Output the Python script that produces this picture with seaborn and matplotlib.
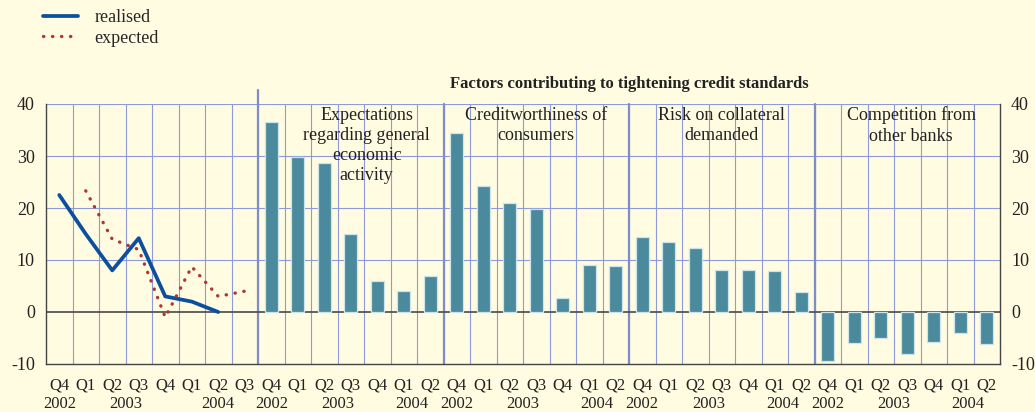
import matplotlib
matplotlib.use("Agg")
import matplotlib.pyplot as plt
import matplotlib.transforms as mtransforms
import numpy as np
import pandas as pd
import seaborn as sns

# left panel: bank lending survey, overall credit standards
left_quarters = ["Q4", "Q1", "Q2", "Q3", "Q4", "Q1", "Q2", "Q3"]
left_years = ["2002", "2003", "2004"]
realised = [22.5, 15.0, 8.0, 14.2, 3.0, 2.0, 0.0, np.nan]
expected = [np.nan, 23.3, 14.0, 12.0, -1.0, 8.7, 3.0, 4.0]

# right part: factors contributing to tightening
group_quarters = ["Q4", "Q1", "Q2", "Q3", "Q4", "Q1", "Q2"]
group_years = ["2002", "2003", "2004"]
factor_names = [
    "Expectations\nregarding general\neconomic\nactivity",
    "Creditworthiness of\nconsumers",
    "Risk on collateral\ndemanded",
    "Competition from\nother banks",
]
expectations_vals = [36.6, 29.8, 28.6, 15.0, 5.9, 4.0, 6.9]
creditworthiness_vals = [34.5, 24.3, 21.0, 19.9, 2.6, 9.1, 8.9]
collateral_vals = [14.5, 13.5, 12.3, 8.1, 8.1, 7.9, 3.9]
competition_vals = [-9.5, -5.9, -5.0, -8.1, -5.7, -4.1, -6.1]
factor_values = [expectations_vals, creditworthiness_vals, collateral_vals, competition_vals]

title = "Factors contributing to tightening credit standards"

BG = "#fffce1"
GRID = "#8f9bd8"
SEP = "#7f8cca"
BAR = "#4a8a9c"
BLUE = "#0b4f9e"
RED = "#b03535"
TXT = "#222222"

sns.set_style("white")
plt.rcParams["font.family"] = ["Liberation Serif", "DejaVu Serif"]
plt.rcParams["axes.unicode_minus"] = False

n_left = len(left_quarters)
n_grp = len(group_quarters)
group_starts = [n_left + k * n_grp for k in range(len(factor_names))]
n_total = n_left + n_grp * len(factor_names)

# tidy tables for seaborn
left_df = pd.DataFrame({
    "pos": np.arange(n_left) + 0.5,
    "realised": realised,
    "expected": expected,
})
bar_rows = []
for start, vals in zip(group_starts, factor_values):
    for i, v in enumerate(vals):
        bar_rows.append({"pos": start + i + 0.5, "value": v})
bar_df = pd.DataFrame(bar_rows)

fig = plt.figure(figsize=(10.35, 4.12), dpi=100, facecolor=BG)
ax = fig.add_axes([46 / 1035, 1 - 364 / 412, 954 / 1035, 260 / 412])
ax.set_facecolor(BG)

# grid
for x in range(1, n_total):
    ax.axvline(x, color=GRID, lw=0.8, zorder=0.5)
for y in [10, 20, 30, 40]:
    ax.axhline(y, color=GRID, lw=0.8, zorder=0.5)
for i, s in enumerate(group_starts):
    top = 1.054 if i == 0 else 1.0
    ax.axvline(s, ymax=top, color=SEP, lw=1.6, zorder=0.6, clip_on=False)
ax.axhline(0, color="#555555", lw=1.3, zorder=1.5)

sns.barplot(data=bar_df, x="pos", y="value", native_scale=True, width=0.48,
            color=BAR, saturation=1, edgecolor="#cfe3ea", linewidth=0.9,
            errorbar=None, ax=ax, zorder=2)

sns.lineplot(data=left_df, x="pos", y="realised", color=BLUE, lw=2.7,
             label="realised", ax=ax, zorder=3, errorbar=None)
sns.lineplot(data=left_df, x="pos", y="expected", color=RED, lw=2.4,
             linestyle=(0, (0.1, 2.6)), dash_capstyle="round",
             label="expected", ax=ax, zorder=3, errorbar=None)

ax.set_xlim(0, n_total)
ax.set_ylim(-10, 40)
ax.set_xlabel("")
ax.set_ylabel("")

# axes frame
ax.spines["top"].set_visible(False)
for side in ["left", "right", "bottom"]:
    ax.spines[side].set_color("#444444")
    ax.spines[side].set_linewidth(1.0)

ax.set_yticks([-10, 0, 10, 20, 30, 40])
ax.tick_params(axis="y", length=0, labelsize=13, pad=8, labelright=True,
               right=False, colors=TXT)

# quarter labels at slot centres, small ticks at slot boundaries
all_quarters = left_quarters + group_quarters * len(factor_names)
ax.set_xticks(np.arange(n_total) + 0.5)
ax.set_xticklabels(all_quarters)
ax.set_xticks(np.arange(n_total + 1), minor=True)
ax.tick_params(axis="x", which="major", length=0, pad=10, labelsize=12,
               colors=TXT)
ax.tick_params(axis="x", which="minor", length=3.5, width=0.9, color="#444444",
               direction="out")

# year labels
trans = mtransforms.blended_transform_factory(ax.transData, ax.transAxes)
year_y = -0.153
for x, yr in zip([0.5, 3.0, 6.5], left_years):
    ax.text(x, year_y, yr, transform=trans, ha="center", va="center",
            fontsize=12, color=TXT)
for s in group_starts:
    for off, yr in zip([0.5, 3.0, 5.8], group_years):
        ax.text(s + off, year_y, yr, transform=trans, ha="center",
                va="center", fontsize=12, color=TXT)

# factor names
name_offsets = [4.1, 3.5, 3.5, 3.65]
for s, off, name in zip(group_starts, name_offsets, factor_names):
    ax.text(s + off, 0.99, name, transform=trans, ha="center", va="top",
            fontsize=13, color=TXT, linespacing=1.25)

ax.text(22.0, 1.078, title, transform=trans, ha="center", va="center",
        fontsize=12, fontweight="bold", color=TXT)

ax.legend(loc="upper left", bbox_to_anchor=(43 / 1035, 1 - 9 / 412),
          bbox_transform=fig.transFigure, frameon=False, fontsize=13,
          handlelength=1.95, handletextpad=0.9, labelspacing=0.2,
          borderpad=0, borderaxespad=0)

fig.savefig("out.png", dpi=100, facecolor=BG)
